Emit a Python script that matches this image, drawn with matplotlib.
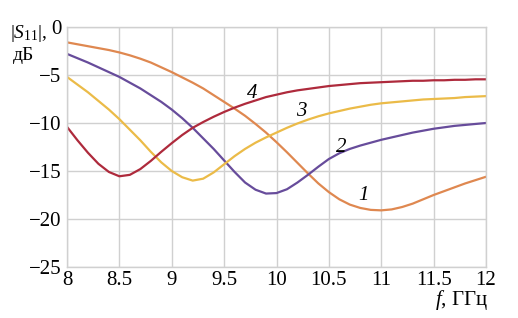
import numpy as np
import matplotlib
matplotlib.use("Agg")
import matplotlib.pyplot as plt

plt.rcParams['font.family'] = 'Liberation Serif'
plt.rcParams['mathtext.fontset'] = 'custom'
plt.rcParams['mathtext.rm'] = 'Liberation Serif'
plt.rcParams['mathtext.it'] = 'Liberation Serif:italic'

# frequency, GHz
freq = [8.0, 8.1, 8.2, 8.3, 8.4, 8.5, 8.6, 8.7, 8.8, 8.9,
        9.0, 9.1, 9.2, 9.3, 9.4, 9.5, 9.6, 9.7, 9.8, 9.9,
        10.0, 10.1, 10.2, 10.3, 10.4, 10.5, 10.6, 10.7, 10.8, 10.9,
        11.0, 11.1, 11.2, 11.3, 11.4, 11.5, 11.6, 11.7, 11.8, 11.9, 12.0]

# |S11|, dB  (curves 1..4)
s11_1 = [-1.6, -1.8, -2.0, -2.2, -2.4, -2.65, -2.95, -3.3, -3.7, -4.2,
         -4.7, -5.25, -5.8, -6.4, -7.1, -7.8, -8.5, -9.25, -10.1, -11.0,
         -12.0, -13.05, -14.15, -15.25, -16.3, -17.2, -17.95, -18.5, -18.85, -19.05,
         -19.1, -19.0, -18.75, -18.4, -17.95, -17.5, -17.1, -16.7, -16.3, -15.95, -15.6]
s11_2 = [-2.8, -3.25, -3.7, -4.2, -4.7, -5.2, -5.8, -6.4, -7.1, -7.8,
         -8.6, -9.5, -10.5, -11.6, -12.7, -13.9, -15.1, -16.2, -16.95, -17.35,
         -17.3, -16.9, -16.2, -15.4, -14.55, -13.75, -13.15, -12.7, -12.35, -12.05,
         -11.75, -11.5, -11.25, -11.0, -10.8, -10.6, -10.45, -10.3, -10.2, -10.1, -10.0]
s11_3 = [-5.2, -6.0, -6.8, -7.7, -8.6, -9.6, -10.7, -11.8, -13.0, -14.1,
         -15.0, -15.65, -16.0, -15.8, -15.15, -14.3, -13.45, -12.7, -12.05, -11.5,
         -11.0, -10.5, -10.05, -9.65, -9.3, -9.0, -8.75, -8.5, -8.3, -8.1,
         -7.95, -7.85, -7.75, -7.65, -7.55, -7.5, -7.45, -7.4, -7.3, -7.25, -7.2]
s11_4 = [-10.4, -11.8, -13.1, -14.25, -15.1, -15.55, -15.4, -14.8, -13.95, -13.0,
         -12.1, -11.25, -10.5, -9.9, -9.35, -8.85, -8.4, -8.0, -7.65, -7.3,
         -7.05, -6.8, -6.6, -6.45, -6.3, -6.15, -6.05, -5.95, -5.85, -5.8,
         -5.75, -5.7, -5.65, -5.6, -5.6, -5.55, -5.55, -5.5, -5.5, -5.45, -5.45]

curves = [s11_1, s11_2, s11_3, s11_4]
colors = ['#DF8850', '#674C9B', '#EBBB48', '#AE2A3C']
labels = ['1', '2', '3', '4']
label_pos = [(10.83, -17.6), (10.62, -12.5), (10.24, -8.8), (9.77, -6.9)]

xticks = [8, 8.5, 9, 9.5, 10, 10.5, 11, 11.5, 12]
xtick_labels = ['8', '8.5', '9', '9.5', '10', '10.5', '11', '11.5', '12']
yticks = [0, -5, -10, -15, -20, -25]
ytick_labels = ['0', '\u22125', '\u221210', '\u221215', '\u221220', '\u221225']

fig = plt.figure(figsize=(5.18, 3.18), dpi=100)
ax = fig.add_axes([67/518, 1 - 267/318, (486 - 67)/518, (267 - 27)/318])

for y, c in zip(curves, colors):
    ax.plot(freq, y, color=c, lw=1.6, solid_capstyle='round', solid_joinstyle='round')

for lab, (x, y) in zip(labels, label_pos):
    ax.text(x, y, lab, fontsize=15, style='italic', ha='center', va='center')

ax.set_xlim(8, 12)
ax.set_ylim(-25, 0)
ax.set_xticks(xticks)
ax.set_xticklabels(xtick_labels)
ax.set_yticks(yticks)
ax.set_yticklabels(ytick_labels)
ax.grid(True, color='#D0D0D0', lw=1.0)
ax.set_axisbelow(True)
for s in ax.spines.values():
    s.set_color('#D0D0D0')
    s.set_linewidth(1.0)
ax.tick_params(length=0, labelsize=15)
ax.tick_params(axis='y', pad=4)
ax.tick_params(axis='x', pad=3)

fig.text(10/518, 1 - 38/318, r'$|\mathit{S}_{11}|$,', fontsize=14, ha='left', va='baseline')
fig.text(13/518, 1 - 60/318, 'дБ', fontsize=14, ha='left', va='baseline')
fig.text(488/518, 1 - 305/318, r'$\mathit{f}$, ГГц', fontsize=15, ha='right', va='baseline')

fig.savefig('out.png', dpi=100)
